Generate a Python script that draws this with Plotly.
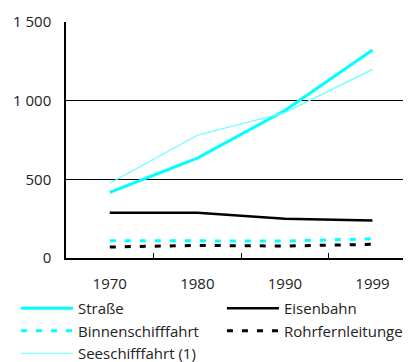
import plotly.graph_objects as go

years = ["1970", "1980", "1990", "1999"]
strasse = [417, 635, 937, 1322]
eisenbahn = [288, 288, 250, 238]
binnen = [110, 110, 108, 122]
rohr = [70, 80, 76, 87]
see = [475, 780, 924, 1199]

FONT = "Open Sans"
fig = go.Figure()
fig.add_trace(go.Scatter(x=years, y=strasse, name="Straße", mode="lines",
                         line=dict(color="#00FFFF", width=3), legend="legend"))
fig.add_trace(go.Scatter(x=years, y=eisenbahn, name="Eisenbahn", mode="lines",
                         line=dict(color="#000000", width=2.5), legend="legend2"))
fig.add_trace(go.Scatter(x=years, y=binnen, name="Binnenschifffahrt", mode="lines",
                         line=dict(color="#00FFFF", width=3, dash="6px,9px"), legend="legend"))
fig.add_trace(go.Scatter(x=years, y=rohr, name="Rohrfernleitungen", mode="lines",
                         line=dict(color="#000000", width=3, dash="6px,9px"), legend="legend2"))
fig.add_trace(go.Scatter(x=years, y=see, name="Seeschifffahrt (1)", mode="lines",
                         line=dict(color="#66FFFF", width=1.2), legend="legend"))

leg_common = dict(orientation="v", yanchor="top", xanchor="left", itemwidth=52,
                  font=dict(size=15), tracegroupgap=0, bgcolor="rgba(0,0,0,0)")

# page body has an 8px default margin, so the figure is sized to fit the window
fig.update_layout(
    width=403, height=354,
    margin=dict(l=58, r=0, t=14, b=104, autoexpand=False),
    paper_bgcolor="white", plot_bgcolor="white",
    font=dict(family=FONT, size=15, color="#222222"),
    showlegend=True,
    legend=dict(x=-0.145, y=-0.144, **leg_common),
    legend2=dict(x=0.452, y=-0.144, **leg_common),
    xaxis=dict(type="category", range=[-0.5, 3.44], showgrid=False,
               showline=True, linecolor="black", linewidth=1.5,
               ticks="inside", tickson="boundaries", ticklen=5, tickcolor="black",
               ticklabelstandoff=11, tickfont=dict(size=15)),
    yaxis=dict(range=[0, 1500], tickvals=[0, 500, 1000, 1500],
               ticktext=["0", "500", "1 000", "1 500"],
               showgrid=True, gridcolor="black", gridwidth=1,
               showline=True, linecolor="black", linewidth=1.5,
               ticks="", ticklabelstandoff=10, zeroline=False,
               tickfont=dict(size=15)),
)
fig.write_html("out.html")
